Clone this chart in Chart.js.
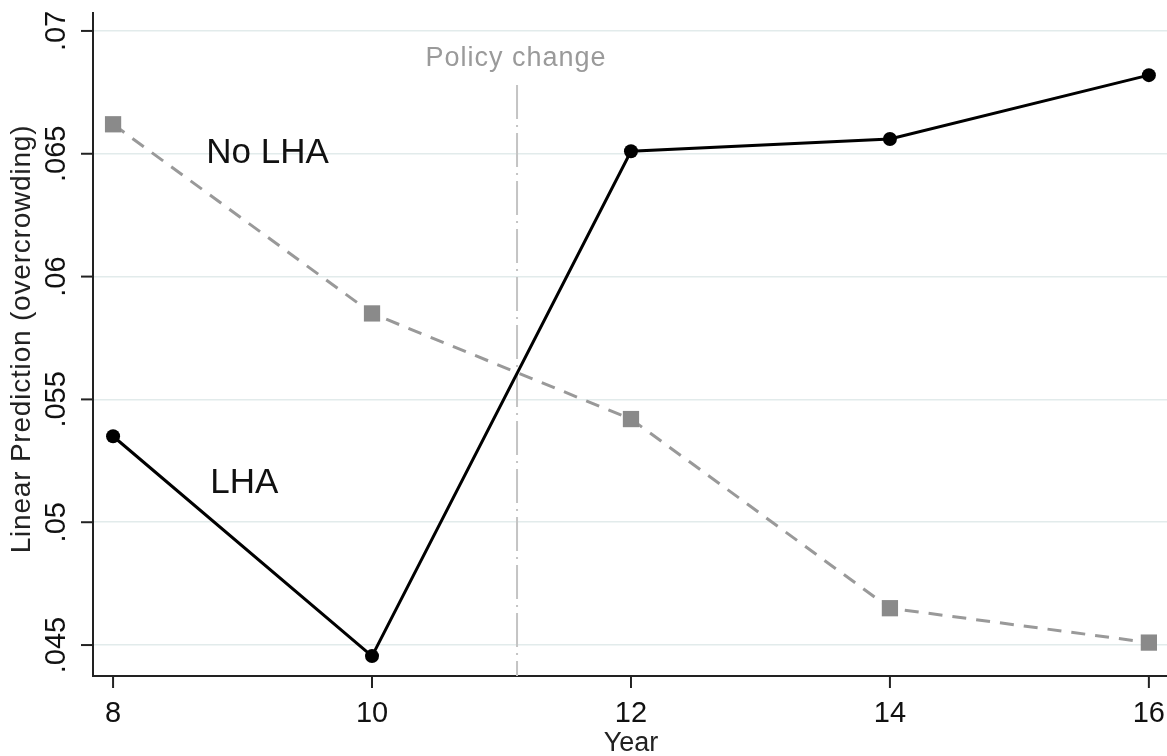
<!DOCTYPE html>
<html>
<head>
<meta charset="utf-8">
<script src="https://cdn.jsdelivr.net/npm/chart.js@4/dist/chart.umd.min.js"></script>
<style>
  body { margin: 0; background: #fff; }
  canvas { display: block; }
</style>
</head>
<body>
<canvas id="chart" width="1167" height="756"></canvas>
<script>
// data
const years = [8, 10, 12, 14, 16];
const lha = [0.0535, 0.04455, 0.0651, 0.0656, 0.0682];
const noLha = [0.0662, 0.0585, 0.0542, 0.0465, 0.0451];
const xTicks = [8, 10, 12, 14, 16];
const yTicks = [0.045, 0.05, 0.055, 0.06, 0.065, 0.07];
const policyYear = 11.12;
const policyTop = 0.0678;

const FONT = '"Liberation Sans", Arial, sans-serif';

const fmtY = v => '.' + v.toFixed(3).replace(/0+$/, '').split('.')[1];

// ticks, labels and the policy line, all placed through the chart's scales
const decor = {
    id: 'decor',
    beforeDatasetsDraw(chart) {
        const {ctx, scales: {x, y}} = chart;
        const px = x.getPixelForValue(policyYear);
        ctx.save();
        ctx.strokeStyle = '#c4c4c4';
        ctx.lineWidth = 2;
        ctx.setLineDash([34, 6, 2, 6]);
        ctx.beginPath();
        ctx.moveTo(px, y.getPixelForValue(policyTop));
        ctx.lineTo(px, chart.chartArea.bottom);
        ctx.stroke();
        ctx.restore();
    },
    afterDraw(chart) {
        const {ctx, chartArea, scales: {x, y}} = chart;
        ctx.save();
        ctx.strokeStyle = '#222';
        ctx.lineWidth = 2;
        ctx.fillStyle = '#111';

        // x ticks
        ctx.font = '29px ' + FONT;
        ctx.textAlign = 'center';
        ctx.textBaseline = 'middle';
        xTicks.forEach(v => {
            const px = x.getPixelForValue(v);
            ctx.beginPath();
            ctx.moveTo(px, chartArea.bottom);
            ctx.lineTo(px, chartArea.bottom + 12);
            ctx.stroke();
            ctx.fillText(String(v), px, chartArea.bottom + 38);
        });

        // y ticks, labels turned like in the original
        yTicks.forEach(v => {
            const py = y.getPixelForValue(v);
            ctx.beginPath();
            ctx.moveTo(chartArea.left - 12, py);
            ctx.lineTo(chartArea.left, py);
            ctx.stroke();
            ctx.save();
            ctx.translate(chartArea.left - 36, py);
            ctx.rotate(-Math.PI / 2);
            ctx.fillText(fmtY(v), 0, 0);
            ctx.restore();
        });

        // axis titles
        ctx.font = '27px ' + FONT;
        ctx.fillStyle = '#222';
        ctx.fillText('Year', x.getPixelForValue(12), 744);
        ctx.save();
        ctx.font = '28px ' + FONT;
        ctx.translate(22, 339);
        ctx.rotate(-Math.PI / 2);
        ctx.letterSpacing = '0.8px';
        ctx.fillText('Linear Prediction (overcrowding)', 0, 0);
        ctx.restore();

        // policy label
        ctx.fillStyle = '#9a9a9a';
        ctx.letterSpacing = '1px';
        ctx.fillText('Policy change', x.getPixelForValue(policyYear) - 1, 59);
        ctx.letterSpacing = '0px';

        // series labels
        ctx.fillStyle = '#111';
        ctx.font = '35px ' + FONT;
        ctx.textAlign = 'left';
        ctx.textBaseline = 'alphabetic';
        ctx.fillText('No LHA', x.getPixelForValue(8.72), y.getPixelForValue(0.06463));
        ctx.fillText('LHA', x.getPixelForValue(8.75), y.getPixelForValue(0.05119));
        ctx.restore();
    }
};

new Chart(document.getElementById('chart'), {
    type: 'line',
    data: {
        datasets: [
            {
                label: 'LHA',
                data: years.map((yr, i) => ({x: yr, y: lha[i]})),
                borderColor: '#000',
                backgroundColor: '#000',
                borderWidth: 3,
                pointStyle: 'circle',
                pointRadius: 7,
                pointBorderWidth: 0,
                tension: 0
            },
            {
                label: 'No LHA',
                data: years.map((yr, i) => ({x: yr, y: noLha[i]})),
                borderColor: '#999',
                backgroundColor: '#8a8a8a',
                borderWidth: 3,
                borderDash: [14, 10],
                pointStyle: 'rect',
                pointRadius: 11.5,
                pointBorderWidth: 0,
                tension: 0
            }
        ]
    },
    options: {
        responsive: false,
        animation: false,
        layout: {autoPadding: false, padding: {left: 93, right: 0, top: 13, bottom: 80}},
        plugins: {legend: {display: false}, tooltip: {enabled: false}},
        scales: {
            x: {
                type: 'linear',
                min: 7.845,
                max: 16.14,
                ticks: {display: false},
                grid: {display: false, drawTicks: false},
                border: {display: true, color: '#222', width: 2}
            },
            y: {
                min: 0.04374,
                max: 0.07073,
                afterBuildTicks: s => { s.ticks = yTicks.map(v => ({value: v})); },
                ticks: {display: false},
                grid: {color: '#e2ebeb', lineWidth: 1.5, drawTicks: false},
                border: {display: true, color: '#222', width: 2}
            }
        }
    },
    plugins: [decor]
});
</script>
</body>
</html>
